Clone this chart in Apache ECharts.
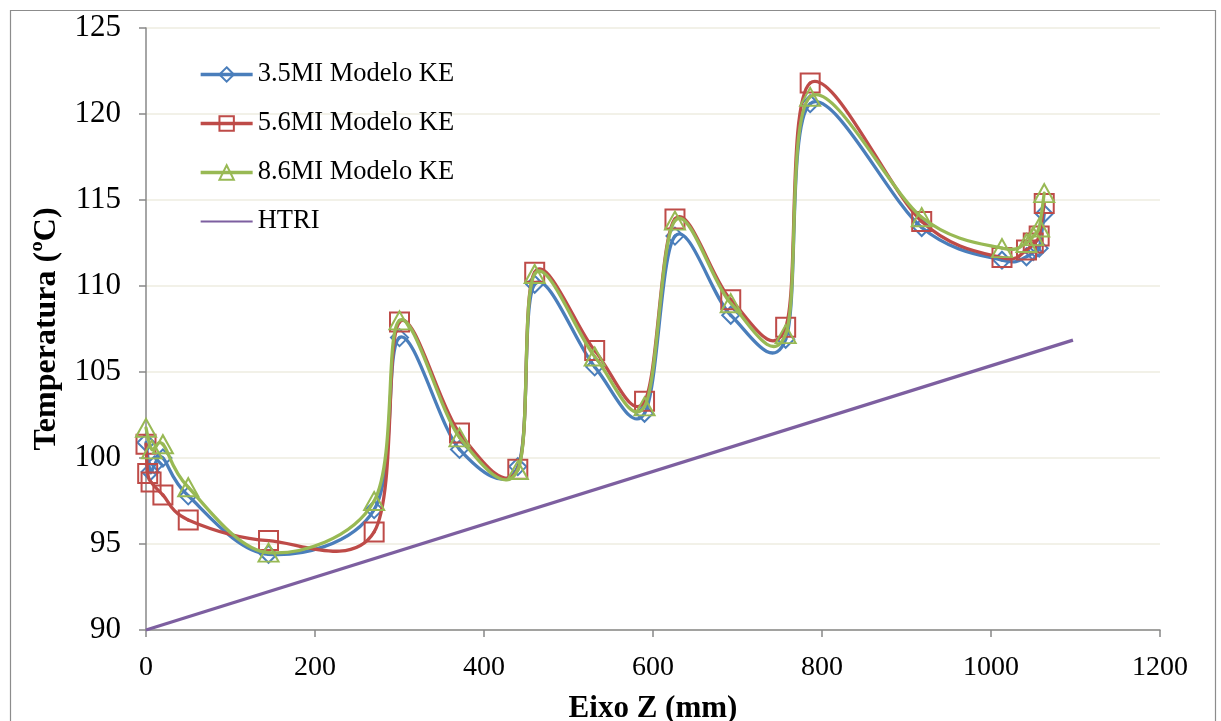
<!DOCTYPE html>
<html>
<head>
<meta charset="utf-8">
<script src="https://cdn.jsdelivr.net/npm/echarts@6/dist/echarts.min.js"></script>
<style>
html,body{margin:0;padding:0;background:#fff;}
#chart{width:1221px;height:721px;}
</style>
</head>
<body>
<div id="chart"></div>
<script>
// ---- data ----
const seriesNames = ['3.5MI Modelo KE', '5.6MI Modelo KE', '8.6MI Modelo KE', 'HTRI'];

const zBlue = [0, 5, 10, 20, 50, 145, 270, 300, 371, 440, 460, 531, 590, 626, 692, 757, 786, 918, 1013, 1042, 1050, 1057, 1063];
const tBlue = [100.9, 99.2, 99.6, 100.0, 97.8, 94.4, 97.0, 107.0, 100.5, 99.5, 110.1, 105.3, 102.6, 112.9, 108.3, 106.9, 120.6, 113.4, 111.5, 111.7, 112.0, 112.2, 114.2];

const zRed = [0, 2, 6, 20, 50, 145, 270, 300, 371, 440, 460, 531, 590, 626, 692, 757, 786, 918, 1013, 1042, 1050, 1057, 1063];
const tRed = [100.8, 99.1, 98.6, 97.85, 96.4, 95.2, 95.7, 107.9, 101.45, 99.35, 110.8, 106.25, 103.3, 113.9, 109.2, 107.6, 121.8, 113.75, 111.65, 112.1, 112.5, 112.9, 114.8];

const zGreen = [0, 7, 20, 50, 145, 270, 300, 371, 440, 460, 531, 590, 626, 692, 757, 786, 918, 1013, 1042, 1050, 1057, 1063];
const tGreen = [101.75, 100.5, 100.8, 98.3, 94.5, 97.5, 108.0, 101.2, 99.3, 110.7, 105.9, 103.0, 113.8, 109.0, 107.2, 121.0, 114.0, 112.2, 112.5, 112.9, 113.4, 115.4];

const zHtri = [0, 1097];
const tHtri = [90, 106.85];

const xTicks = {min: 0, max: 1200, interval: 200};
const yTicks = {min: 90, max: 125, interval: 5};

// ---- chart ----
const colors = ['#4A7EBB', '#BE4B48', '#98B954', '#7D5FA0'];
const font = 'Liberation Serif';
const LW = 3.3;
function pairs(xs, ys){ return xs.map((x, i) => [x, ys[i]]); }

// markers (and legend entry) for a model series
function markerSeries(idx, xs, ys, symbol, size){
  return {
    name: seriesNames[idx], type: 'line', smooth: false,
    data: pairs(xs, ys),
    symbol: symbol, symbolSize: size, showAllSymbol: true,
    lineStyle: {color: colors[idx], width: LW, opacity: 0},
    itemStyle: {color: 'rgba(255,255,255,0)', borderColor: colors[idx], borderWidth: 2},
    emphasis: {disabled: true},
    z: 3 + idx * 2
  };
}

// Excel-like smoothed curve (Catmull-Rom Bezier through the data points, in pixel space via api.coord)
function curveSeries(idx, xs, ys){
  return {
    name: seriesNames[idx], type: 'custom', coordinateSystem: 'cartesian2d',
    data: [[xs[0], ys[0]]],
    silent: true,
    z: 2 + idx * 2,
    renderItem: function(params, api){
      const p = xs.map((x, i) => api.coord([x, ys[i]]));
      const n = p.length;
      const children = [];
      for (let i = 0; i < n - 1; i++){
        const p0 = p[Math.max(i - 1, 0)], p1 = p[i], p2 = p[i + 1], p3 = p[Math.min(i + 2, n - 1)];
        children.push({
          type: 'bezierCurve',
          shape: {
            x1: p1[0], y1: p1[1], x2: p2[0], y2: p2[1],
            cpx1: p1[0] + (p2[0] - p0[0]) / 6, cpy1: p1[1] + (p2[1] - p0[1]) / 6,
            cpx2: p2[0] - (p3[0] - p1[0]) / 6, cpy2: p2[1] - (p3[1] - p1[1]) / 6
          },
          style: {fill: null, stroke: colors[idx], lineWidth: LW, lineCap: 'round'}
        });
      }
      return {type: 'group', children: children};
    }
  };
}

const chart = echarts.init(document.getElementById('chart'), null, {renderer: 'canvas'});
chart.setOption({
  animation: false,
  backgroundColor: '#ffffff',
  graphic: [{
    type: 'rect', left: 8, top: 8, z: -1,
    shape: {x: 0, y: 0, width: 1205, height: 730},
    style: {fill: 'none', stroke: '#8c8c8c', lineWidth: 1.2}
  }],
  grid: {left: 146, right: 61, top: 28, bottom: 91, containLabel: false, outerBoundsMode: 'none'},
  legend: {
    orient: 'vertical', left: 194, top: 56,
    itemWidth: 52, itemHeight: 18, itemGap: 22,
    textStyle: {fontFamily: font, fontSize: 26.5, color: '#000'},
    data: [
      {name: seriesNames[0], lineStyle: {opacity: 1, width: LW, color: colors[0]}},
      {name: seriesNames[1], lineStyle: {opacity: 1, width: LW, color: colors[1]}},
      {name: seriesNames[2], lineStyle: {opacity: 1, width: LW, color: colors[2]}},
      {name: seriesNames[3], itemStyle: {opacity: 0}}
    ]
  },
  xAxis: {
    type: 'value', min: xTicks.min, max: xTicks.max, interval: xTicks.interval,
    name: 'Eixo Z (mm)', nameLocation: 'middle', nameGap: 63,
    nameTextStyle: {fontFamily: font, fontSize: 31, fontWeight: 'bold', color: '#000'},
    axisLine: {show: true, onZero: false, lineStyle: {color: '#888888', width: 1.5}},
    axisTick: {show: true, inside: false, length: 7, lineStyle: {color: '#888888', width: 1.5}},
    axisLabel: {fontFamily: font, fontSize: 28, color: '#000', margin: 24, formatter: v => String(v)},
    splitLine: {show: false}
  },
  yAxis: {
    type: 'value', min: yTicks.min, max: yTicks.max, interval: yTicks.interval,
    name: 'Temperatura (ºC)', nameLocation: 'middle', nameGap: 83, nameRotate: 90,
    nameTextStyle: {fontFamily: font, fontSize: 32, fontWeight: 'bold', color: '#000'},
    axisLine: {show: true, onZero: false, lineStyle: {color: '#888888', width: 1.5}},
    axisTick: {show: true, inside: false, length: 7, lineStyle: {color: '#888888', width: 1.5}},
    axisLabel: {fontFamily: font, fontSize: 31, color: '#000', margin: 25, formatter: v => String(v)},
    splitLine: {show: true, lineStyle: {color: '#EEECE1', width: 1.5}}
  },
  series: [
    markerSeries(0, zBlue, tBlue, 'diamond', [17, 17]),
    markerSeries(1, zRed, tRed, 'rect', 19),
    markerSeries(2, zGreen, tGreen, 'triangle', [20, 18]),
    {
      name: seriesNames[3], type: 'line', data: pairs(zHtri, tHtri),
      symbol: 'none', lineStyle: {color: colors[3], width: LW},
      itemStyle: {color: colors[3]}, emphasis: {disabled: true}, z: 1
    },
    curveSeries(0, zBlue, tBlue),
    curveSeries(1, zRed, tRed),
    curveSeries(2, zGreen, tGreen)
  ]
});
</script>
</body>
</html>
